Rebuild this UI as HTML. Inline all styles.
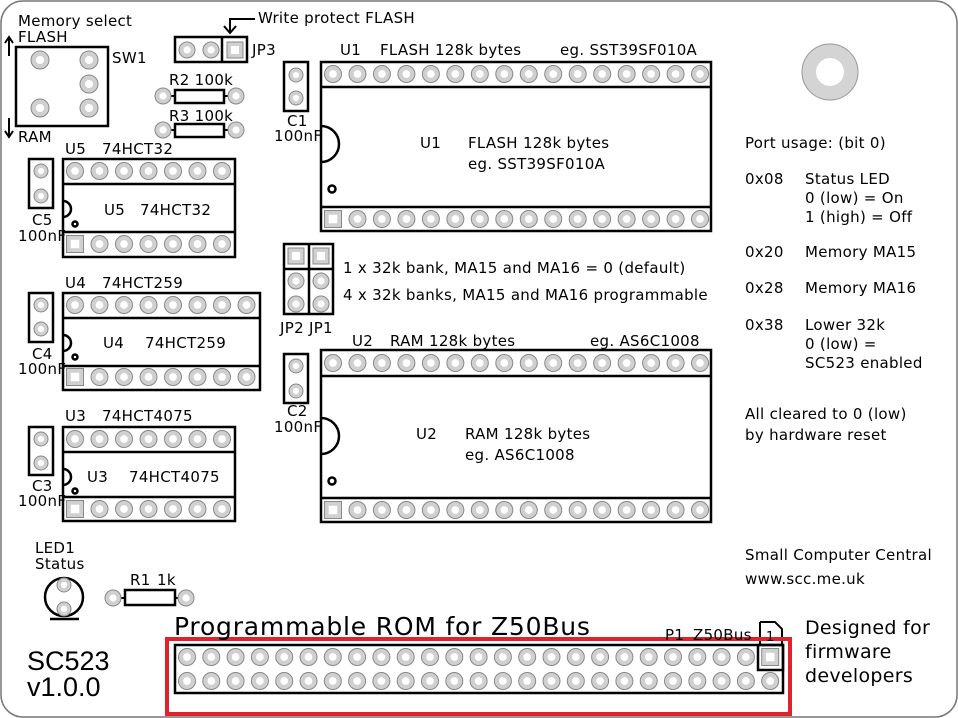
<!DOCTYPE html>
<html><head><meta charset="utf-8">
<style>
html,body{margin:0;padding:0;background:#fff;}
svg{display:block;}
text{font-family:"DejaVu Sans","Liberation Sans",sans-serif;fill:#000;}
.l{font-family:"Liberation Sans",sans-serif;}
</style></head>
<body>
<svg id="s" width="958" height="718" viewBox="0 0 958 718" xmlns="http://www.w3.org/2000/svg">
<rect x="1" y="1" width="956" height="716" rx="22" fill="#fff" stroke="#777" stroke-width="1.5"/>
<g id="g" stroke="#000" stroke-width="2.5" fill="none">
<rect x="16" y="47" width="92" height="79"/>
<rect x="175" y="37" width="72" height="25"/><line x1="222" y1="37" x2="222" y2="62"/>
<polyline points="255,19 230,19 230,33" stroke-width="2"/>
<polyline points="224,26 230,33 236,26" stroke-width="2"/>
<polyline points="9,56 9,38" stroke-width="2"/><polyline points="5,43 9,37 13,43" stroke-width="2"/>
<polyline points="9,118 9,136" stroke-width="2"/><polyline points="5,131 9,137 13,131" stroke-width="2"/>
<rect x="175" y="90" width="49" height="13"/><rect x="175" y="124" width="49" height="13"/>
<rect x="284" y="62" width="24" height="49"/>
<rect x="29" y="159" width="24" height="49"/>
<rect x="29" y="293" width="24" height="49"/>
<rect x="284" y="354" width="24" height="49"/>
<rect x="29" y="427" width="24" height="48"/>
<rect x="321" y="62" width="390" height="169"/><line x1="321" y1="87" x2="711" y2="87"/><line x1="321" y1="207" x2="711" y2="207"/>
<path d="M321,126 A18,18 0 0 1 321,162"/><circle cx="332" cy="189" r="3.5"/>
<rect x="321" y="350" width="390" height="172"/><line x1="321" y1="376" x2="711" y2="376"/><line x1="321" y1="498" x2="711" y2="498"/>
<path d="M321,418 A18,18 0 0 1 321,454"/><circle cx="332" cy="481" r="3.5"/>
<rect x="63" y="159" width="172" height="98"/><line x1="63" y1="184" x2="235" y2="184"/><line x1="63" y1="232" x2="235" y2="232"/>
<path d="M63,201 A8,8 0 0 1 63,217"/><circle cx="75" cy="224" r="2.5"/>
<rect x="63" y="293" width="197" height="97"/><line x1="63" y1="318" x2="260" y2="318"/><line x1="63" y1="366" x2="260" y2="366"/>
<path d="M63,335 A8,8 0 0 1 63,351"/><circle cx="75" cy="357" r="2.5"/>
<rect x="63" y="427" width="172" height="94"/><line x1="63" y1="452" x2="235" y2="452"/><line x1="63" y1="497" x2="235" y2="497"/>
<path d="M63,469 A8,8 0 0 1 63,485"/><circle cx="75" cy="491" r="2.5"/>
<rect x="284" y="244" width="49" height="70"/><line x1="309" y1="244" x2="309" y2="314"/><line x1="284" y1="269" x2="333" y2="269"/>
<circle cx="64" cy="597" r="19"/><line x1="50" y1="619" x2="79" y2="619"/>
<rect x="125" y="590" width="50" height="15"/>
<rect x="175" y="645" width="608" height="48"/><rect x="758" y="645" width="25" height="25"/>
<path d="M760,622 L775,622 L782,629 L782,645" stroke-width="2"/><line x1="760" y1="622" x2="760" y2="645" stroke-width="2"/>
</g>
<g stroke="#000" stroke-width="2"><line x1="163" y1="96" x2="175" y2="96"/><line x1="224" y1="96" x2="236" y2="96"/>
<line x1="163" y1="130" x2="175" y2="130"/><line x1="224" y1="130" x2="236" y2="130"/>
<line x1="113" y1="598" x2="125" y2="598"/><line x1="175" y1="598" x2="186" y2="598"/></g>
<rect x="167" y="639" width="623" height="75" fill="none" stroke="#e0232a" stroke-width="4"/>
<circle cx="830" cy="72" r="28" fill="#d4d4d4" stroke="#999" stroke-width="1"/><circle cx="830" cy="72" r="14" fill="#fff"/>
<g id="pads"></g>
<g font-size="15" letter-spacing="0.3">
<text x="18" y="26">Memory select</text><text x="18" y="42">FLASH</text><text x="18" y="142">RAM</text>
<text x="112" y="63">SW1</text><text x="252" y="55">JP3</text>
<text x="258" y="23">Write protect FLASH</text>
<text x="169" y="85">R2 100k</text><text x="169" y="121">R3 100k</text>
<text x="287" y="126">C1</text><text x="274" y="141">100nF</text>
<text x="340" y="55">U1</text><text x="380" y="55">FLASH 128k bytes</text><text x="560" y="55">eg. SST39SF010A</text>
<text x="420" y="148">U1</text><text x="468" y="148">FLASH 128k bytes</text><text x="468" y="169">eg. SST39SF010A</text>
<text x="65" y="154">U5</text><text x="102" y="154">74HCT32</text>
<text x="104" y="215">U5</text><text x="140" y="215">74HCT32</text>
<text x="32" y="225">C5</text><text x="18" y="241">100nF</text>
<text x="65" y="288">U4</text><text x="102" y="288">74HCT259</text>
<text x="103" y="348">U4</text><text x="145" y="348">74HCT259</text>
<text x="32" y="359">C4</text><text x="18" y="374">100nF</text>
<text x="65" y="421">U3</text><text x="102" y="421">74HCT4075</text>
<text x="87" y="482">U3</text><text x="129" y="482">74HCT4075</text>
<text x="32" y="491">C3</text><text x="18" y="506">100nF</text>
<text x="280" y="333">JP2 JP1</text>
<text x="343" y="273">1 x 32k bank, MA15 and MA16 = 0 (default)</text>
<text x="343" y="300">4 x 32k banks, MA15 and MA16 programmable</text>
<text x="287" y="416">C2</text><text x="274" y="432">100nF</text>
<text x="352" y="346">U2</text><text x="390" y="346">RAM 128k bytes</text><text x="590" y="346">eg. AS6C1008</text>
<text x="416" y="439">U2</text><text x="465" y="439">RAM 128k bytes</text><text x="465" y="460">eg. AS6C1008</text>
<text x="35" y="553">LED1</text><text x="35" y="569">Status</text>
<text x="130" y="585">R1</text><text x="157" y="585">1k</text>
<text x="665" y="640">P1</text><text x="693" y="640">Z50Bus</text>
<text x="766" y="641" font-size="13">1</text>
<text x="745" y="148">Port usage: (bit 0)</text>
<text x="745" y="184">0x08</text><text x="805" y="184">Status LED</text>
<text x="805" y="203">0 (low) = On</text><text x="805" y="222">1 (high) = Off</text>
<text x="745" y="257">0x20</text><text x="805" y="257">Memory MA15</text>
<text x="745" y="293">0x28</text><text x="805" y="293">Memory MA16</text>
<text x="745" y="330">0x38</text><text x="805" y="330">Lower 32k</text>
<text x="805" y="349">0 (low) =</text><text x="805" y="368">SC523 enabled</text>
<text x="745" y="419">All cleared to 0 (low)</text><text x="745" y="440">by hardware reset</text>
<text x="745" y="560">Small Computer Central</text><text x="745" y="584">www.scc.me.uk</text>
</g>
<text x="174" y="635" font-size="25" letter-spacing="0.8">Programmable ROM for Z50Bus</text>
<text class="l" x="27" y="670" font-size="27">SC523</text><text class="l" x="27" y="696" font-size="27">v1.0.0</text>
<g font-size="19" letter-spacing="0.3"><text x="805" y="634">Designed for</text><text x="805" y="658">firmware</text><text x="805" y="682">developers</text></g>
</svg>
<script>
var NS="http://www.w3.org/2000/svg",P=document.getElementById("pads");
function el(t,a){var e=document.createElementNS(NS,t);for(var k in a)e.setAttribute(k,a[k]);P.appendChild(e);}
function pad(x,y,r,sq){if(sq){el("rect",{x:x-r,y:y-r,width:2*r,height:2*r,fill:"#d0d0d0",stroke:"#888","stroke-width":1});el("rect",{x:x-r/2,y:y-r/2,width:r,height:r,fill:"#fff"});}
else{el("circle",{cx:x,cy:y,r:r,fill:"#d0d0d0",stroke:"#888","stroke-width":1});el("circle",{cx:x,cy:y,r:r*0.45,fill:"#fff"});}}
function row(x0,y,n,sp,r,sqFirst,sqLast){for(var i=0;i<n;i++)pad(x0+i*sp,y,r,(sqFirst&&i==0)||(sqLast&&i==n-1));}
pad(40,60,9);pad(89,60,9);pad(89,84,9);pad(40,108,9);pad(89,108,9);
pad(187,50,8);pad(211,50,8);pad(235,50,8,true);
pad(163,96,8);pad(236,96,8);pad(163,130,8);pad(236,130,8);pad(113,598,8);pad(186,598,8);
[[296,75],[296,98],[41,171],[41,196],[41,305],[41,329],[296,366],[296,391],[41,439],[41,463]].forEach(function(p){pad(p[0],p[1],7);});
row(333,74,16,24.47,8.5);row(333,219,16,24.47,8.5,true);
row(333,363,16,24.47,8.5);row(333,510,16,24.47,8.5,true);
row(75,171,7,24.5,8.5);row(75,244,7,24.5,8.5,true);
row(75,305,8,24.5,8.5);row(75,377,8,24.5,8.5,true);
row(75,439,7,24.5,8.5);row(75,509,7,24.5,8.5,true);
pad(296,256,8,true);pad(321,256,8,true);pad(296,281,8);pad(321,281,8);pad(296,304,8);pad(321,304,8);
pad(64,585,7);pad(64,609,7);
row(187,657,25,24.3,8.5,false,true);row(187,681,25,24.3,8.5);
</script>
</body></html>
